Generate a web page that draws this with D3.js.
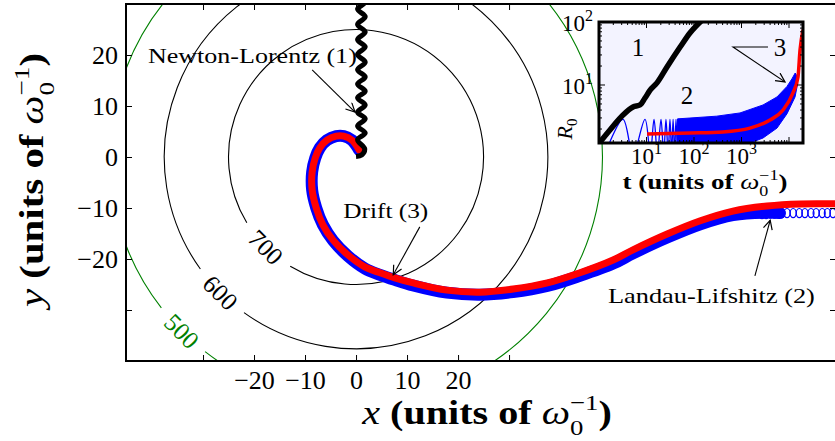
<!DOCTYPE html>
<html>
<head>
<meta charset="utf-8">
<script src="https://cdn.jsdelivr.net/npm/d3@7"></script>
<style>
  body { margin: 0; background: #fff; }
  svg { display: block; }
  text { font-family: "Liberation Serif", "Times New Roman", serif; }
</style>
</head>
<body>
<svg id="chart" width="835" height="441"></svg>
<script>
// ---- main panel data (units of 1/omega0) ----
const contourLevels = [700, 600, 500];
const contourRadii = [25.0, 37.6, 48.3];

const xTicks = [-30, -20, -10, 0, 10, 20, 30];
const xTickLabels = [-20, -10, 0, 10, 20];
const yTicks = [-30, -20, -10, 0, 10, 20];
const yTickLabels = [-20, -10, 0, 10, 20];

// Newton-Lorentz (1)
const newtonPath = [
  [0.0, 0.1], [1.1, 0.4], [1.7, 1.6], [0.3, 3.4], [1.8, 4.7], [0.3, 6.1], [1.8, 7.5],
  [0.3, 8.8], [1.8, 10.2], [0.3, 11.6], [1.8, 12.9], [0.3, 14.3], [1.8, 15.7],
  [0.3, 17.1], [1.8, 18.6], [0.3, 20.1], [1.8, 21.6], [0.3, 23.0], [1.8, 24.5],
  [0.3, 26.0], [1.8, 27.5], [0.3, 29.0], [1.8, 30.4], [0.3, 31.9]
];

// Drift (3)
const driftPath = [
  [0.6, 1.4], [-0.8, 3.3], [-2.4, 4.1], [-3.9, 4.1], [-5.7, 3.3], [-7.1, 1.8],
  [-8.0, -0.2], [-8.6, -2.9], [-8.6, -6.5], [-7.8, -10.0], [-6.5, -13.3],
  [-4.5, -16.3], [-1.6, -19.2], [1.8, -21.6], [4.7, -22.7], [7.6, -23.7],
  [11.2, -24.7], [17.8, -26.1], [24.3, -26.5], [30.8, -25.9], [37.5, -24.7],
  [43.9, -22.7], [50.4, -20.2], [54.3, -18.2], [61.0, -15.1], [67.5, -12.5],
  [73.9, -10.6], [80.6, -9.6], [87.1, -9.2], [94.9, -9.2]
];

// Landau-Lifshitz (2): dense part of the band, then the resolved loops
const llPath = [
  [0.6, 1.4], [-0.8, 3.3], [-2.4, 4.1], [-3.9, 4.1], [-5.7, 3.3], [-7.1, 1.8],
  [-8.0, -0.2], [-8.6, -2.9], [-8.6, -6.5], [-7.8, -10.0], [-6.5, -13.3],
  [-4.5, -16.4], [-1.6, -19.4], [1.8, -21.9], [4.7, -23.1], [7.6, -24.1],
  [11.2, -25.2], [17.8, -26.6], [24.3, -27.0], [30.8, -26.5], [37.5, -25.3],
  [43.9, -23.3], [50.4, -20.9], [54.3, -18.9], [61.0, -15.8], [67.5, -13.2],
  [73.9, -11.4], [80.6, -10.9], [83.1, -11.0]
];
const llLoopX = [79.6, 80.4, 81.2, 82.0, 82.7, 83.5, 84.5, 85.7, 86.9, 88.0, 89.2, 90.2, 91.4, 92.4, 93.5, 94.7];
const llLoopY = [-11.2, -11.2, -11.1, -11.1, -11.0, -11.0, -11.0, -11.0, -11.0, -11.0, -11.0, -11.0, -11.0, -11.0, -11.0, -11.0];

// annotations: [label, text x, text y, arrow from x, from y, to x, to y]
const notes = [
  ["Newton-Lorentz (1)", -40.8, 18.4, -8.6, 17.1, -0.2, 8.8],
  ["Drift (3)", -2.5, -12.0, 12.5, -13.7, 7.3, -23.1],
  ["Landau-Lifshitz (2)", 49.4, -28.6, 78.2, -23.3, 81.2, -12.4]
];

// ---- inset data: R0 versus t ----
const insetXTicks = [10, 100, 1000];
const insetYTicks = [10, 100];
const insetNewton = [
  [1.05, 1.24], [1.7, 1.93], [3.2, 3.34], [5.2, 4.48], [7.3, 4.82], [9.3, 6.2],
  [11.9, 8.3], [16.6, 10.8], [27, 19.3], [51, 40], [82, 67], [147, 107]
];
const insetLLOsc = [
  [1.34, 0.8], [3.2, 2.85], [5.2, 0.8], [9.3, 2.85], [12, 0.8], [14.4, 2.85],
  [17, 0.8], [20.2, 2.85], [23, 0.8], [25.7, 2.85], [28.5, 0.8], [31.2, 2.85],
  [33.8, 0.8], [36.3, 2.85], [39, 0.8], [41.8, 2.85], [45, 0.8], [48.3, 2.85], [51, 0.8]
];
const insetLLTop = [
  [45, 2.9], [82, 2.99], [300, 3.2], [930, 3.6], [2840, 4.82], [5590, 6.46],
  [9080, 9.5], [11500, 12.5], [13500, 15.5]
];
const insetLLBottom = [
  [45, 0.8], [1190, 1.0], [1510, 1.2], [2840, 1.44], [5590, 2.07], [9080, 3.5],
  [13400, 6.46], [15200, 10.5], [14600, 14]
];
const insetDrift = [
  [10.3, 1.67], [82, 1.73], [408, 1.8], [1510, 2.07], [3990, 2.78], [7480, 4.0],
  [12100, 7.5], [15460, 13.4], [17060, 36], [19700, 75]
];
// labels "1", "2", "3" and the arrow of "3"
const insetNotes = [["1", 6.6, 40], ["2", 71, 6.9], ["3", 6470, 40]];
const insetArrow = [[3610, 40], [662, 40], [8240, 11.2]];

// ---- drawing ----
const svg = d3.select("#chart");
svg.append("rect").attr("width", 835).attr("height", 441).attr("fill", "#fff");

const x = d3.scaleLinear().domain([-45.1, 94.1]).range([126, 836]);
const y = d3.scaleLinear().domain([-40, 30]).range([361, 4]);

const defs = svg.append("defs");
defs.append("clipPath").attr("id", "clipMain").append("rect")
  .attr("x", 126).attr("y", 4).attr("width", 710).attr("height", 357);
defs.append("marker").attr("id", "head")
  .attr("viewBox", "-10 -5 11 10").attr("refX", 0).attr("refY", 0)
  .attr("markerWidth", 11).attr("markerHeight", 10)
  .attr("markerUnits", "userSpaceOnUse").attr("orient", "auto")
  .append("path").attr("d", "M-9,-4.5L0,0L-9,4.5")
  .attr("fill", "none").attr("stroke", "#000").attr("stroke-width", 1.2);

const plot = svg.append("g").attr("clip-path", "url(#clipMain)");

// contour circles with a gap for the label
const labelAngle = 225 * Math.PI / 180;
contourLevels.forEach(function (lev, i) {
  const rpx = x(contourRadii[i]) - x(0);
  const half = 31 / rpx;
  const col = lev === 500 ? "#008000" : "#000";
  const p = d3.path();
  p.arc(x(0), y(0), rpx, -labelAngle + half, -labelAngle - half + 2 * Math.PI, false);
  plot.append("path").attr("d", p.toString())
    .attr("fill", "none").attr("stroke", col).attr("stroke-width", 1.1);
  const lx = x(contourRadii[i] * Math.cos(labelAngle));
  const ly = y(contourRadii[i] * Math.sin(labelAngle));
  plot.append("text")
    .attr("transform", "translate(" + lx + "," + ly + ") rotate(45)")
    .attr("text-anchor", "middle").attr("dy", "0.35em")
    .attr("font-size", 25).attr("fill", col)
    .text(lev);
});

const line = d3.line().x(d => x(d[0])).y(d => y(d[1])).curve(d3.curveCatmullRom);

plot.append("path").datum(llPath).attr("d", line)
  .attr("fill", "none").attr("stroke", "#0000ff").attr("stroke-width", 12)
  .attr("stroke-linecap", "round");
plot.selectAll(".loop").data(llLoopX).enter().append("ellipse")
  .attr("class", "loop")
  .attr("cx", d => x(d)).attr("cy", (d, i) => y(llLoopY[i]))
  .attr("rx", 3).attr("ry", 4.6)
  .attr("fill", "none").attr("stroke", "#0000ff").attr("stroke-width", 1.2);
plot.append("path").datum(driftPath).attr("d", line)
  .attr("fill", "none").attr("stroke", "#ff0000").attr("stroke-width", 7)
  .attr("stroke-linecap", "round");
plot.append("path").datum(newtonPath).attr("d", line)
  .attr("fill", "none").attr("stroke", "#000").attr("stroke-width", 5);

// annotations
const noteWidths = [209, 85, 207];
notes.forEach(function (n, i) {
  svg.append("line")
    .attr("x1", x(n[3])).attr("y1", y(n[4])).attr("x2", x(n[5])).attr("y2", y(n[6]))
    .attr("stroke", "#000").attr("stroke-width", 1.1).attr("marker-end", "url(#head)");
  const g = svg.append("g").attr("transform", "translate(" + x(n[1]) + "," + y(n[2]) + ")");
  const t = g.append("text").attr("font-size", 22).text(n[0]);
  fitWidth(t, noteWidths[i]);
});

// axes, ticks inward
function styleAxis(g, size) {
  g.select(".domain").remove();
  g.selectAll("line").attr("stroke", "#000").attr("stroke-width", 1);
  g.selectAll("text").attr("font-family", "Liberation Serif, serif").attr("font-size", size).attr("fill", "#000");
}
const fmt = d3.format("d");
svg.append("g").attr("transform", "translate(0,361)")
  .call(d3.axisBottom(x).tickValues(xTicks).tickSizeInner(-6).tickSizeOuter(0).tickPadding(10)
    .tickFormat(d => xTickLabels.includes(d) ? fmt(d) : ""))
  .call(g => styleAxis(g, 26));
svg.append("g").attr("transform", "translate(0,4)")
  .call(d3.axisTop(x).tickValues(xTicks).tickSizeInner(-6).tickSizeOuter(0).tickFormat(""))
  .call(g => styleAxis(g, 26));
svg.append("g").attr("transform", "translate(126,0)")
  .call(d3.axisLeft(y).tickValues(yTicks).tickSizeInner(-6).tickSizeOuter(0).tickPadding(8)
    .tickFormat(d => yTickLabels.includes(d) ? fmt(d) : ""))
  .call(g => styleAxis(g, 26));
svg.append("g").attr("transform", "translate(836,0)")
  .call(d3.axisRight(y).tickValues(yTicks).tickSizeInner(-6).tickSizeOuter(0).tickFormat(""))
  .call(g => styleAxis(g, 26));
svg.append("rect").attr("x", 126).attr("y", 4).attr("width", 710).attr("height", 357)
  .attr("fill", "none").attr("stroke", "#000").attr("stroke-width", 2);

// axis labels
function unitsLabel(g, letter, size, subSize, italicLetter) {
  const t = g.append("text").attr("text-anchor", "middle").attr("font-size", size)
    .attr("font-weight", "bold");
  t.append("tspan").attr("font-style", italicLetter ? "italic" : "normal")
    .attr("font-weight", italicLetter ? "normal" : "bold")
    .text(letter);
  t.append("tspan").text(" (units of ");
  t.append("tspan").attr("font-style", "italic").attr("font-weight", "normal").text("ω");
  t.append("tspan").attr("font-size", subSize).attr("font-weight", "normal")
    .attr("dy", subSize * 0.5).text("0");
  t.append("tspan").attr("font-size", subSize).attr("font-weight", "normal")
    .attr("dx", -subSize * 0.5).attr("dy", -subSize * 1.15).text("−1");
  t.append("tspan").attr("dy", subSize * 0.65).text(")");
  return t;
}
const gx = svg.append("g").attr("transform", "translate(487,424)");
fitWidth(unitsLabel(gx, "x", 33, 22, true), 251);
const gy = svg.append("g").attr("transform", "translate(43,180) rotate(-90)");
fitWidth(unitsLabel(gy, "y", 33, 22, true), 258);

// ---- inset ----
const xi = d3.scaleLog().domain([1, 19700]).range([599, 803]);
const yi = d3.scaleLog().domain([1.2, 100]).range([143, 22]);
defs.append("clipPath").attr("id", "clipInset").append("rect")
  .attr("x", 599).attr("y", 22).attr("width", 204).attr("height", 121);

svg.append("rect").attr("x", 599).attr("y", 22).attr("width", 204).attr("height", 121)
  .attr("fill", "#f3f3ff");
const ins = svg.append("g").attr("clip-path", "url(#clipInset)");

ins.append("path").datum(insetLLOsc)
  .attr("d", d3.line().x(d => xi(d[0])).y(d => yi(d[1])).curve(d3.curveCatmullRom))
  .attr("fill", "none").attr("stroke", "#0000ff").attr("stroke-width", 1.3);
ins.append("path").datum(insetLLTop.concat(insetLLBottom.slice().reverse()))
  .attr("d", d3.line().x(d => xi(d[0])).y(d => yi(d[1])).curve(d3.curveLinearClosed))
  .attr("fill", "#0000ff").attr("stroke", "#0000ff").attr("stroke-width", 1);
ins.append("path").datum(insetDrift)
  .attr("d", d3.line().x(d => xi(d[0])).y(d => yi(d[1])).curve(d3.curveMonotoneX))
  .attr("fill", "none").attr("stroke", "#ff0000").attr("stroke-width", 3.5);
ins.append("path").datum(insetNewton)
  .attr("d", d3.line().x(d => xi(d[0])).y(d => yi(d[1])).curve(d3.curveMonotoneX))
  .attr("fill", "none").attr("stroke", "#000").attr("stroke-width", 5.5);

ins.selectAll(".inote").data(insetNotes).enter().append("text")
  .attr("x", d => xi(d[1])).attr("y", d => yi(d[2])).attr("dy", "0.35em")
  .attr("text-anchor", "middle").attr("font-size", 25).text(d => d[0]);
ins.append("path").datum(insetArrow).attr("d", d3.line().x(d => xi(d[0])).y(d => yi(d[1])))
  .attr("fill", "none").attr("stroke", "#000").attr("stroke-width", 1.1)
  .attr("marker-end", "url(#head)");

// inset ticks (major and minor, inward on all sides)
const tx = xi.ticks().filter(v => v > 1 && v < 19700);
const ty = yi.ticks().filter(v => v > 1.2 && v < 100);
const isMajor = v => Math.abs(Math.log10(v) - Math.round(Math.log10(v))) < 1e-9;
const tk = svg.append("g").attr("stroke", "#000").attr("stroke-width", 1);
tx.forEach(function (v) {
  const L = isMajor(v) ? 6 : 3;
  tk.append("line").attr("x1", xi(v)).attr("x2", xi(v)).attr("y1", 143).attr("y2", 143 - L);
  tk.append("line").attr("x1", xi(v)).attr("x2", xi(v)).attr("y1", 22).attr("y2", 22 + L);
});
ty.concat([100]).forEach(function (v) {
  const L = isMajor(v) ? 6 : 3;
  tk.append("line").attr("y1", yi(v)).attr("y2", yi(v)).attr("x1", 599).attr("x2", 599 + L);
  tk.append("line").attr("y1", yi(v)).attr("y2", yi(v)).attr("x1", 803).attr("x2", 803 - L);
});
svg.append("rect").attr("x", 599).attr("y", 22).attr("width", 204).attr("height", 121)
  .attr("fill", "none").attr("stroke", "#000").attr("stroke-width", 3);

function powLabel(t, v) {
  t.append("tspan").text("10");
  t.append("tspan").attr("font-size", 16).attr("dy", -10).text(Math.round(Math.log10(v)));
}
insetXTicks.forEach(function (v) {
  powLabel(svg.append("text").attr("x", xi(v)).attr("y", 164)
    .attr("text-anchor", "middle").attr("font-size", 23), v);
});
insetYTicks.forEach(function (v) {
  powLabel(svg.append("text").attr("x", 593).attr("y", yi(v) + 9)
    .attr("text-anchor", "end").attr("font-size", 23), v);
});
const gr = svg.append("g").attr("transform", "translate(572,129) rotate(-90)");
const rt = gr.append("text").attr("text-anchor", "middle").attr("font-size", 22);
rt.append("tspan").attr("font-style", "italic").text("R");
rt.append("tspan").attr("font-size", 15).attr("dy", 5).text("0");

const git = svg.append("g").attr("transform", "translate(705,189)");
fitWidth(unitsLabel(git, "t", 21, 14, false), 165);

function fitWidth(t, target) {
  const w = t.node().getBBox().width;
  t.attr("transform", "scale(" + (target / w) + ",1)");
}
</script>
</body>
</html>
